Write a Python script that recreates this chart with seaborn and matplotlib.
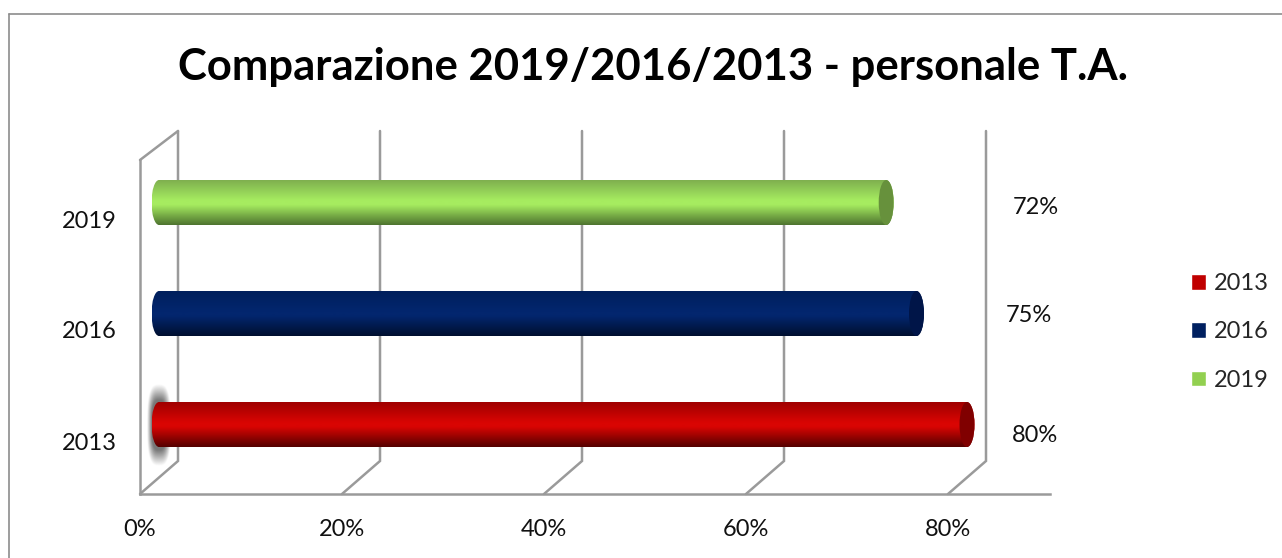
import numpy as np
import pandas as pd
import matplotlib
matplotlib.use("Agg")
import matplotlib.pyplot as plt
import seaborn as sns
from matplotlib.colors import LinearSegmentedColormap
from matplotlib.lines import Line2D
from matplotlib.patches import Ellipse, PathPatch
from matplotlib.path import Path

# Chart data
years = ["2019", "2016", "2013"]
shares = [72, 75, 80]
legend_years = ["2013", "2016", "2019"]
x_ticks = [0, 20, 40, 60, 80]
year_colors = {"2013": "#C00000", "2016": "#002060", "2019": "#92D050"}

# Cylinder shading: edge, highlight, shaded underside, end cap
shading = {
    "2019": ("#7FB04F", "#A6EC60", "#4F7530", "#67913C"),
    "2016": ("#001F5C", "#03266E", "#000F30", "#001548"),
    "2013": ("#A00000", "#D90503", "#560000", "#800000"),
}

W, H, DPI = 1282, 558, 100
AX_LEFT, AX_RIGHT, AX_TOP, AX_BOTTOM = 140, 1050, 160, 494
PX_PER_PCT = 10.1
PX_PER_ROW = 111
DEPTH_PX = (38, 33)
GRID = "#9A9A9A"
FRAME = "#8C8C8C"
TEXT = "#111111"
LINE_W = 1.8
FONT = "Lato"
TEXT_SIZE = 17

sns.set_theme(style="white")
plt.rcParams["font.family"] = FONT

fig = plt.figure(figsize=(W / DPI, H / DPI), dpi=DPI)
fig.patch.set_facecolor("white")
ax = fig.add_axes([AX_LEFT / W, 1 - AX_BOTTOM / H,
                   (AX_RIGHT - AX_LEFT) / W, (AX_BOTTOM - AX_TOP) / H])

table = pd.DataFrame({"year": years, "share": shares})
bar_height = 45 / PX_PER_ROW
sns.barplot(data=table, y="year", x="share", hue="year", order=years,
            hue_order=legend_years, palette=year_colors, dodge=False,
            width=bar_height, ax=ax, legend=True, saturation=1)

ax.set_xlim(0, (AX_RIGHT - AX_LEFT) / PX_PER_PCT)
ax.set_ylim((AX_BOTTOM - 219) / PX_PER_ROW, (AX_TOP - 219) / PX_PER_ROW)
ax.patch.set_alpha(0)
ax.set_xlabel("")
ax.set_ylabel("")
ax.set_xticks(x_ticks, [f"{t}%" for t in x_ticks])
ax.tick_params(axis="x", length=0, pad=18, labelsize=TEXT_SIZE, labelcolor=TEXT)
ax.tick_params(axis="y", length=0, pad=16.5, labelsize=TEXT_SIZE, labelcolor=TEXT)
for name, spine in ax.spines.items():
    spine.set_visible(name in ("left", "bottom"))
    spine.set_color(GRID)
    spine.set_linewidth(LINE_W)

# Depth of the 3D box and of one pixel, in data units
dep_x = DEPTH_PX[0] / PX_PER_PCT
dep_y = DEPTH_PX[1] / PX_PER_ROW
px_x = 1 / PX_PER_PCT
y_floor, y_top = ax.get_ylim()
y_back_top = y_top - 29 / PX_PER_ROW

# Floor diagonals and back wall uprights at every tick
for t in x_ticks:
    ax.plot([t, t + dep_x, t + dep_x],
            [y_floor, y_floor - dep_y, y_back_top],
            color=GRID, lw=LINE_W, clip_on=False, zorder=1, solid_joinstyle="miter")
ax.plot([0, dep_x], [y_top, y_back_top], color=GRID, lw=LINE_W, clip_on=False, zorder=1)

# Cylinders replace the flat bars, half way into the box
cap_rx = 7.5 * px_x
off_x, off_y = dep_x / 2, dep_y / 2
bars = {}
for patch in ax.patches:
    if patch.get_width() > 0:
        row = int(round(patch.get_y() + patch.get_height() / 2))
        bars[years[row]] = patch

# Soft shadow behind the start of the 2013 cylinder
row_2013 = years.index("2013")
gx, gy = np.meshgrid(np.linspace(-1, 1, 80), np.linspace(-1, 1, 160))
glow = np.clip(1 - (np.abs(gx) ** 3 + np.abs(gy) ** 3) ** (1 / 3), 0, 1)
rgba = np.zeros(glow.shape + (4,))
rgba[..., :3] = 0.38
rgba[..., 3] = np.clip(glow * 2.2, 0, 0.85)
ax.imshow(rgba, extent=(off_x - 12 * px_x, off_x + 12 * px_x,
                        row_2013 - off_y + 42 / PX_PER_ROW,
                        row_2013 - off_y - 40 / PX_PER_ROW),
          aspect="auto", zorder=2, clip_on=False, interpolation="bilinear")

for year, value in zip(years, shares):
    patch = bars[year]
    patch.set_visible(False)
    row = years.index(year)
    edge, high, low, cap = shading[year]
    x0, x1 = off_x, off_x + value
    yc = row - off_y
    half = bar_height / 2
    k = 0.5523
    verts = [(x0, yc - half), (x1, yc - half),
             (x1 + k * cap_rx, yc - half), (x1 + cap_rx, yc - k * half), (x1 + cap_rx, yc),
             (x1 + cap_rx, yc + k * half), (x1 + k * cap_rx, yc + half), (x1, yc + half),
             (x0, yc + half),
             (x0 - k * cap_rx, yc + half), (x0 - cap_rx, yc + k * half), (x0 - cap_rx, yc),
             (x0 - cap_rx, yc - k * half), (x0 - k * cap_rx, yc - half), (x0, yc - half),
             (x0, yc - half)]
    codes = [Path.MOVETO, Path.LINETO, Path.CURVE4, Path.CURVE4, Path.CURVE4,
             Path.CURVE4, Path.CURVE4, Path.CURVE4, Path.LINETO,
             Path.CURVE4, Path.CURVE4, Path.CURVE4, Path.CURVE4, Path.CURVE4, Path.CURVE4,
             Path.CLOSEPOLY]
    outline = PathPatch(Path(verts, codes), facecolor="none", edgecolor="none",
                        transform=ax.transData)
    ax.add_patch(outline)
    cmap = LinearSegmentedColormap.from_list(
        f"cyl{year}", [(0, edge), (0.45, high), (0.55, high), (1, low)])
    img = ax.imshow(np.linspace(0, 1, 64).reshape(-1, 1), cmap=cmap, aspect="auto",
                    extent=(x0 - cap_rx, x1 + cap_rx, yc + half, yc - half),
                    zorder=3, clip_on=True, interpolation="bilinear")
    img.set_clip_path(outline)
    ax.add_patch(Ellipse((x1, yc), 2 * cap_rx, 2 * half, facecolor=cap,
                         edgecolor="none", zorder=4))

# imshow resets the view, so pin it again
ax.set_xlim(0, (AX_RIGHT - AX_LEFT) / PX_PER_PCT)
ax.set_ylim(y_floor, y_top)

# Value labels, placed by hand to the right of the box
label_pos = {"2019": (1036, 208), "2016": (1029, 316), "2013": (1035, 436)}
for year, value in zip(years, shares):
    px, py = label_pos[year]
    fig.text(px / W, 1 - py / H, f"{value}%", ha="center", va="center",
             fontsize=TEXT_SIZE, color=TEXT)

fig.suptitle("Comparazione 2019/2016/2013 - personale T.A.", x=652.5 / W, y=1 - 67 / H,
             ha="center", va="center", fontsize=31.4, fontweight="bold", color="#000000")

sns.move_legend(ax, loc="center left",
                bbox_to_anchor=((1172 - AX_LEFT) / (AX_RIGHT - AX_LEFT),
                                (AX_BOTTOM - 332) / (AX_BOTTOM - AX_TOP)),
                frameon=False, title=None, fontsize=TEXT_SIZE, labelspacing=1.16,
                handlelength=0.64, handleheight=0.64, handletextpad=0.35, borderpad=0.3)

# Chart frame: left and top edges run off the picture
for xs, ys in (([9, 9], [558, 14]), ([9, 1282], [14, 14])):
    fig.add_artist(Line2D([x / W for x in xs], [1 - y / H for y in ys],
                          transform=fig.transFigure, color=FRAME, lw=1.2))

fig.savefig("out.png", dpi=DPI, facecolor="white")
